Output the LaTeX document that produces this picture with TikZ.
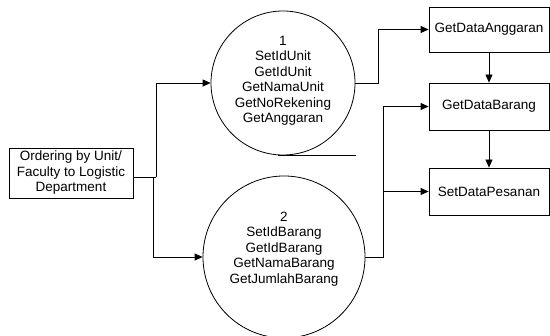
\documentclass[tikz,border=0pt]{standalone}
\usepackage{fontspec}
\setmainfont{Liberation Sans}
\usetikzlibrary{arrows.meta}
\begin{document}
\begin{tikzpicture}[x=1pt,y=-1pt,
  every node/.style={font=\fontsize{13.5}{15.5}\selectfont},
  box/.style={draw,line width=0.8pt,minimum width=120pt,inner sep=0pt,align=center},
  proc/.style={draw,circle,line width=0.8pt,inner sep=0pt},
  txt/.style={align=center,inner sep=0pt},
  arr/.style={line width=0.8pt,-{Triangle[length=8pt,width=7pt]}},
  ln/.style={line width=0.8pt}]
\useasboundingbox (0,0) rectangle (550,336);

% source
\node[box,minimum width=124pt,minimum height=50pt] (src) at (71,173)
  {Ordering by Unit/\\Faculty to Logistic\\Department};

% processes
\node[proc,minimum size=144pt] (c1) at (283,83) {};
\node[txt] (t1) at (283,81) {1\\SetIdUnit\\GetIdUnit\\GetNamaUnit\\GetNoRekening\\GetAnggaran};
\node[proc,minimum size=162pt] (c2) at (284,257) {};
\node[txt] (t2) at (284,249) {2\\SetIdBarang\\GetIdBarang\\GetNamaBarang\\GetJumlahBarang};

% data stores
\node[box,minimum height=45pt] (b1) at (489,29.5) {GetDataAnggaran};
\node[box,minimum height=47pt] (b2) at (489,106.5) {GetDataBarang};
\node[box,minimum height=47pt] (b3) at (489,191.5) {SetDataPesanan};

% junctions
\coordinate (j1) at (156,177);
\coordinate (j2) at (153,177);
\coordinate (k1) at (378,83);
\coordinate (k2) at (383,257);
\coordinate (k3) at (383,191.5);
\coordinate (u0) at (278,155);
\coordinate (u1) at (356,155);

% connectors
\draw[ln] (src.east |- j1) -- (j1);
\draw[arr] (j1) |- (c1.west);
\draw[arr] (j2) |- (c2.west);
\draw[ln] (u0) -- (u1);
\draw[arr] (c1.east) -- (k1) |- (b1.west);
\draw[arr] (c2.east) -- (k2) |- (b2.west);
\draw[arr] (k3) -- (b3.west);
\draw[arr] (b1.south) -- (b2.north);
\draw[arr] (b2.south) -- (b3.north);
\end{tikzpicture}
\end{document}
